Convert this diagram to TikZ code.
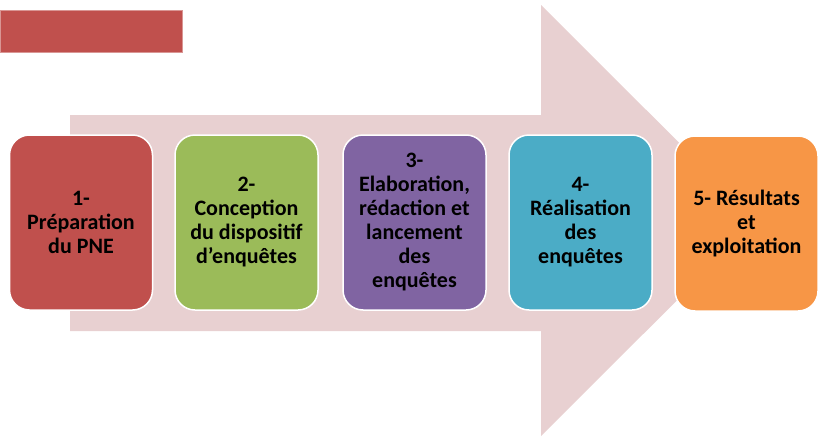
\documentclass[tikz,border=0pt]{standalone}
\usepackage{fontspec}
\setmainfont{Carlito}
\definecolor{stepred}{HTML}{C0504D}
\definecolor{stepgreen}{HTML}{9BBB59}
\definecolor{steppurple}{HTML}{8064A2}
\definecolor{stepblue}{HTML}{4BACC6}
\definecolor{steporange}{HTML}{F79646}
\definecolor{arrowpink}{HTML}{E8D0D1}
\begin{document}
\begin{tikzpicture}[x=1pt,y=-1pt,
    step_box/.style={rectangle,rounded corners=20pt,draw=white,line width=1.5pt,
      minimum width=143pt,minimum height=175pt,inner sep=2pt,text width=136pt,
      align=flush center,font=\fontsize{22}{24}\selectfont\bfseries,text=black}]

     \useasboundingbox (0,0) rectangle (819,439);

     % big background arrow
     \fill[arrowpink] (70,115) -- (541,115) -- (541,5) -- (757,220.5)
       -- (541,436) -- (541,331) -- (70,331) -- cycle;

     % title bar
     \node[rectangle,fill=stepred,draw=stepred!60!white,line width=0.6pt,
       minimum width=182pt,minimum height=42pt,inner sep=0pt] (bar) at (91,31) {};

     \node[step_box,fill=stepred] (1) at (81,222.5) {1-\\Préparation\\du PNE};
     \node[step_box,fill=stepgreen] (2) at (246.5,222.5) {2-\\Conception\\du dispositif\\d’enquêtes};
     \node[step_box,fill=steppurple] (3) at (414.5,222.5) {3-\\Elaboration,\\rédaction et\\lancement\\des\\enquêtes};
     \node[step_box,fill=stepblue] (4) at (580.5,222.5) {4-\\Réalisation\\des\\enquêtes};
     \node[step_box,fill=steporange] (5) at (746.5,223.5) {5- Résultats\\et\\exploitation};

 \end{tikzpicture}
\end{document}
